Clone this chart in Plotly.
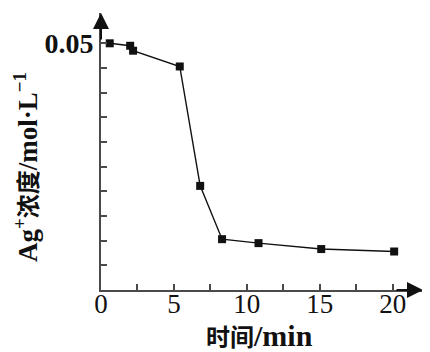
import plotly.graph_objects as go

time_min = [0.6, 2.0, 2.2, 5.4, 6.8, 8.3, 10.8, 15.1, 20.1]
ag_conc = [0.0500, 0.0495, 0.0485, 0.0453, 0.0211, 0.0103, 0.0095, 0.0083, 0.0078]

x_tickvals = [0, 2.5, 5, 7.5, 10, 12.5, 15, 17.5, 20]
x_ticktext = ["0", "", "5", "", "10", "", "15", "", "20"]
y_tickvals = [0.005 * i for i in range(1, 11)]
y_ticktext = [""] * 9 + ["<b>0.05</b>"]

W, H = 430, 352
OFF = 8  # page body margin offset
L, R, T, B = 101 - OFF, 15, 13 - OFF, 70
pw, ph = W - L - R, H - T - B
xmax = pw / 14.585
ymax = ph / (246.7 / 0.05)

serif = "Liberation Serif, Times New Roman, serif"
axcol = "#4a4a4a"

fig = go.Figure()
fig.add_trace(go.Scatter(
    x=time_min, y=ag_conc, mode="lines+markers",
    line=dict(color="#111111", width=1.4),
    marker=dict(symbol="square", size=8, color="#111111"),
    showlegend=False, cliponaxis=False,
))

fig.update_layout(
    width=W, height=H,
    margin=dict(l=L, r=R, t=T, b=B, pad=0, autoexpand=False),
    paper_bgcolor="white", plot_bgcolor="white",
    font=dict(family=serif, color="#111111"),
    xaxis=dict(
        range=[0, xmax], showgrid=False, zeroline=False, automargin=False,
        showline=True, linecolor=axcol, linewidth=2,
        ticks="inside", ticklen=6, tickwidth=1.5, tickcolor=axcol,
        tickvals=x_tickvals, ticktext=x_ticktext, ticklabelstandoff=-11,
        tickfont=dict(family=serif, size=27, color="#111111"),
    ),
    yaxis=dict(
        range=[0, ymax], showgrid=False, zeroline=False, automargin=False,
        showline=True, linecolor=axcol, linewidth=2,
        ticks="inside", ticklen=6, tickwidth=1.5, tickcolor=axcol,
        tickvals=y_tickvals, ticktext=y_ticktext,
        tickfont=dict(family=serif, size=28, color="#111111"),
    ),
)

# axis arrowheads
fig.add_annotation(x=0, y=1, xref="x", yref="paper", ax=0, ay=28,
                   text="", showarrow=True, arrowhead=2, arrowsize=1.6,
                   arrowwidth=2, arrowcolor="#111111", standoff=0)
fig.add_annotation(x=1, y=0, xref="paper", yref="y", ax=-28, ay=0,
                   text="", showarrow=True, arrowhead=2, arrowsize=1.6,
                   arrowwidth=2, arrowcolor="#111111", standoff=0)

# axis titles (positions in target pixels, shifted by page offset)
def px_to_paper(px, py):
    fx, fy = px - OFF, py - OFF
    return (fx - L) / pw, (H - B - fy) / ph

yx, yy = px_to_paper(26, 167)
fig.add_annotation(
    x=yx, y=yy, xref="paper", yref="paper",
    text="<b>Ag<sup>+</sup><span style='font-family:Noto Sans CJK SC;font-size:24px'>浓度</span>/mol·L<sup>−1</sup></b>",
    textangle=-90, showarrow=False, xanchor="center", yanchor="middle",
    font=dict(family=serif, size=27, color="#111111"),
)
tx, ty = px_to_paper(259, 335)
fig.add_annotation(
    x=tx, y=ty, xref="paper", yref="paper",
    text="<b><span style='font-family:Noto Sans CJK SC;font-size:24px'>时间</span>/min</b>",
    showarrow=False, xanchor="center", yanchor="middle",
    font=dict(family=serif, size=30, color="#111111"),
)

fig.write_html("out.html")
